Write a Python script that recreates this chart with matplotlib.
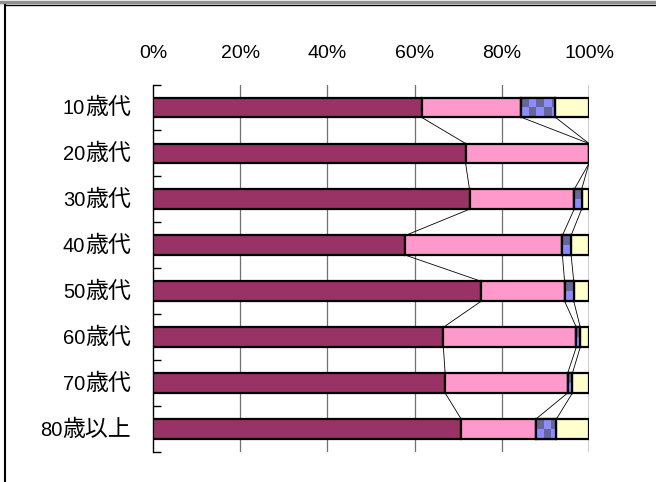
import matplotlib
matplotlib.use("Agg")
import matplotlib.pyplot as plt
import numpy as np
from matplotlib.lines import Line2D
from matplotlib.offsetbox import TextArea, HPacker, AnnotationBbox

plt.rcParams['font.family'] = ['Liberation Sans', 'Noto Sans CJK JP', 'DejaVu Sans']

categories = ["10歳代", "20歳代", "30歳代", "40歳代", "50歳代", "60歳代", "70歳代", "80歳以上"]
s1 = [61.6, 71.7, 72.6, 57.9, 75.3, 66.6, 67.0, 70.7]
s2 = [22.9, 28.3, 24.0, 36.0, 19.1, 30.5, 28.1, 17.1]
s3 = [7.8, 0.0, 1.7, 2.0, 2.1, 0.9, 1.1, 4.7]
s4 = [7.7, 0.0, 1.7, 4.1, 3.5, 2.0, 3.8, 7.5]
xticks = [0, 20, 40, 60, 80, 100]
xticklabels = ["0%", "20%", "40%", "60%", "80%", "100%"]

colors = ["#993366", "#FF99CC", "#8C8CFF", "#FFFFCC"]
checker_dark = "#666699"

W, H = 656, 482
fig = plt.figure(figsize=(W / 100, H / 100), dpi=100)
ax = fig.add_axes([153 / W, 1 - 452 / H, (589 - 153) / W, (452 - 84.5) / H])

n = len(categories)
y = np.arange(n)
bh = 0.43
series = [s1, s2, s3, s4]
left = np.zeros(n)
bars = []
for k, s in enumerate(series):
    b = ax.barh(y, s, left=left, height=bh, color=colors[k], edgecolor="black",
                linewidth=1.6, zorder=3)
    bars.append(b)
    left = left + np.array(s)

# checkerboard for series 3
cw = 1.7
for i, rect in enumerate(bars[2]):
    wdt = s3[i]
    if wdt <= 0:
        continue
    x0 = s1[i] + s2[i]
    ncol = int(np.ceil(wdt / cw)) + 1
    img = np.zeros((2, ncol, 3))
    c1 = np.array(matplotlib.colors.to_rgb(colors[2]))
    c2 = np.array(matplotlib.colors.to_rgb(checker_dark))
    for r in range(2):
        for c in range(ncol):
            img[r, c] = c2 if (r + c) % 2 == 0 else c1
    im = ax.imshow(img, extent=[x0, x0 + ncol * cw, i + bh / 2, i - bh / 2],
                   aspect="auto", interpolation="nearest", zorder=3.5)
    im.set_clip_path(rect)
    ax.barh([i], [wdt], left=[x0], height=bh, facecolor="none", edgecolor="black",
            linewidth=1.6, zorder=3.6)

# series lines
cum = [np.array(s1), np.array(s1) + np.array(s2), np.array(s1) + np.array(s2) + np.array(s3)]
for c in cum:
    for i in range(n - 1):
        ax.plot([c[i], c[i + 1]], [i + bh / 2, i + 1 - bh / 2], color="black",
                linewidth=0.6, zorder=2.5)

ax.set_xlim(0, 100)
ax.set_ylim(n - 0.5, -0.5)
ax.xaxis.tick_top()
ax.set_xticks(xticks)
ax.set_xticklabels(xticklabels, fontsize=14)
ax.tick_params(axis="x", length=0, pad=16)
for xv in xticks[1:-1]:
    ax.axvline(xv, color="#707070", linewidth=0.9, zorder=1)
ax.axvline(100, color="black", linewidth=1.0, zorder=1)

# y labels: digits in Liberation Sans, kanji in Noto Sans CJK JP (larger)
ax.set_yticks(y)
ax.set_yticklabels([])
ax.tick_params(axis="y", length=0)
trans = matplotlib.transforms.blended_transform_factory(ax.transAxes, ax.transData)
for i, lab in enumerate(categories):
    num = lab[:2]
    kan = lab[2:]
    t1 = TextArea(num, textprops=dict(fontsize=14.5, family="Liberation Sans"))
    t2 = TextArea(kan, textprops=dict(fontsize=16.5, family="Noto Sans CJK JP"))
    pk = HPacker(children=[t1, t2], align="baseline", pad=0, sep=0)
    ab = AnnotationBbox(pk, (0, i), xycoords=trans, xybox=(-22, 0),
                        boxcoords="offset pixels", box_alignment=(1, 0.5),
                        frameon=False, annotation_clip=False)
    ax.add_artist(ab)

ax.set_yticks(np.arange(-0.5, n, 1.0), minor=True)
ax.tick_params(axis="y", which="minor", direction="in", length=6, width=1.0, color="black")

for sp in ["top", "right", "bottom"]:
    ax.spines[sp].set_visible(False)
ax.spines["left"].set_linewidth(1.0)

# figure frame (top gray, left dark)
fig.add_artist(Line2D([0, 1], [1 - 1.5 / H, 1 - 1.5 / H], transform=fig.transFigure,
                      color="#909090", linewidth=2.5))
fig.add_artist(Line2D([4.5 / W, 4.5 / W], [0, 1 - 5 / H], transform=fig.transFigure,
                      color="black", linewidth=1.5))
fig.add_artist(Line2D([4.5 / W, 1], [1 - 5 / H, 1 - 5 / H], transform=fig.transFigure,
                      color="black", linewidth=1.0))

fig.savefig("out.png", dpi=100)
